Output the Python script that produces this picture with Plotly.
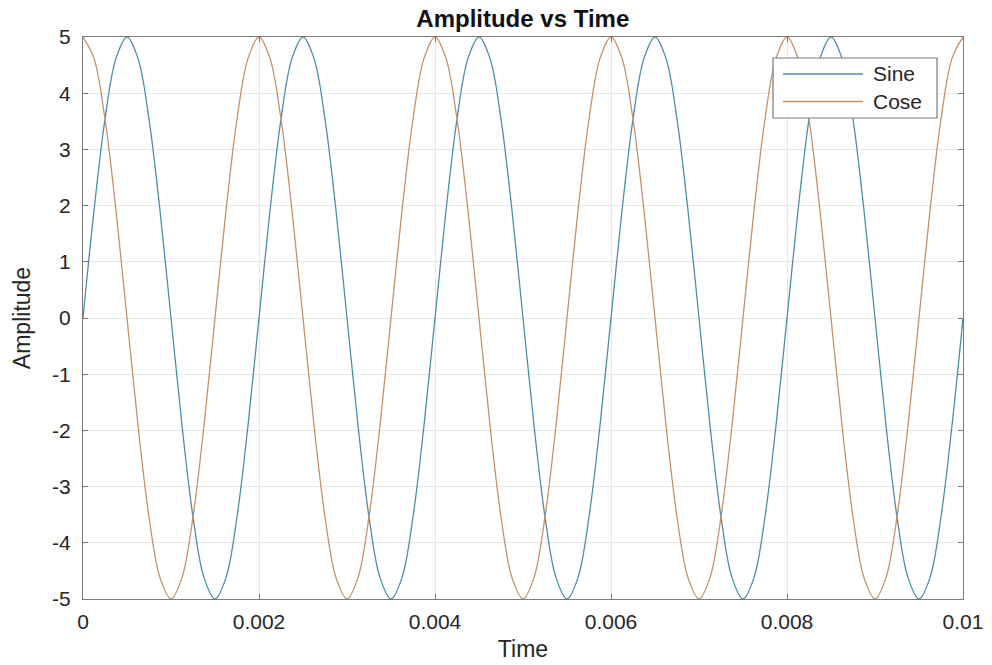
import plotly.graph_objects as go

# Time samples (s): sixteen per 0.002 s period, 0 .. 0.01
time = [i * 0.000125 for i in range(81)]
# Amplitudes at those times
sine = [0, 1.91, 3.54, 4.62, 5, 4.62, 3.54, 1.91, 0, -1.91, -3.54, -4.62, -5, -4.62, -3.54, -1.91,
        0, 1.91, 3.54, 4.62, 5, 4.62, 3.54, 1.91, 0, -1.91, -3.54, -4.62, -5, -4.62, -3.54, -1.91,
        0, 1.91, 3.54, 4.62, 5, 4.62, 3.54, 1.91, 0, -1.91, -3.54, -4.62, -5, -4.62, -3.54, -1.91,
        0, 1.91, 3.54, 4.62, 5, 4.62, 3.54, 1.91, 0, -1.91, -3.54, -4.62, -5, -4.62, -3.54, -1.91,
        0, 1.91, 3.54, 4.62, 5, 4.62, 3.54, 1.91, 0, -1.91, -3.54, -4.62, -5, -4.62, -3.54, -1.91,
        0]
cose = [5, 4.62, 3.54, 1.91, 0, -1.91, -3.54, -4.62, -5, -4.62, -3.54, -1.91, 0, 1.91, 3.54, 4.62,
        5, 4.62, 3.54, 1.91, 0, -1.91, -3.54, -4.62, -5, -4.62, -3.54, -1.91, 0, 1.91, 3.54, 4.62,
        5, 4.62, 3.54, 1.91, 0, -1.91, -3.54, -4.62, -5, -4.62, -3.54, -1.91, 0, 1.91, 3.54, 4.62,
        5, 4.62, 3.54, 1.91, 0, -1.91, -3.54, -4.62, -5, -4.62, -3.54, -1.91, 0, 1.91, 3.54, 4.62,
        5, 4.62, 3.54, 1.91, 0, -1.91, -3.54, -4.62, -5, -4.62, -3.54, -1.91, 0, 1.91, 3.54, 4.62,
        5]
series_names = ["Sine", "Cose"]
x_ticks = [0, 0.002, 0.004, 0.006, 0.008, 0.01]
x_tick_text = ["0", "0.002", "0.004", "0.006", "0.008", "0.01"]
y_ticks = [5, 4, 3, 2, 1, 0, -1, -2, -3, -4, -5]
y_tick_text = ["5", "4", "3", "2", "1", "0", "-1", "-2", "-3", "-4", "-5"]

COLORS = ["#4a8fa8", "#c99068"]
FONT = "Liberation Sans, Arial, sans-serif"
AXIS_GRAY = "#7a7a7a"

fig = go.Figure()
for name, vals, col in zip(series_names, [sine, cose], COLORS):
    fig.add_trace(go.Scatter(x=time, y=vals, mode="lines", name=name, showlegend=False,
                             line=dict(color=col, width=1.3, shape="spline", smoothing=1.0)))

axis_common = dict(
    showline=True, linecolor=AXIS_GRAY, linewidth=1.2, mirror="ticks",
    ticks="inside", ticklen=5, tickcolor=AXIS_GRAY,
    showgrid=True, gridcolor="#e6e6e6", gridwidth=1,
    zeroline=False, automargin=False,
    tickfont=dict(family=FONT, size=21, color="#262626"),
)

# Legend box drawn in paper coordinates (MATLAB-style legend)
shapes = [dict(type="rect", xref="paper", yref="paper", x0=0.7841, x1=0.9705, y0=0.8559, y1=0.9626,
               fillcolor="white", line=dict(color=AXIS_GRAY, width=1.2), layer="above")]
annotations = []
for i, (name, col) in enumerate(zip(series_names, COLORS)):
    ly = 0.9342 - i * 0.0490
    shapes.append(dict(type="line", xref="paper", yref="paper", x0=0.7955, x1=0.8864, y0=ly, y1=ly,
                       line=dict(color=col, width=1.6), layer="above"))
    annotations.append(dict(xref="paper", yref="paper", x=0.8955, y=ly, xanchor="left", yanchor="middle",
                            text=name, showarrow=False,
                            font=dict(family=FONT, size=21, color="#262626")))

fig.update_layout(
    width=992, height=665,
    margin=dict(l=83, r=29, t=37, b=66),
    paper_bgcolor="white", plot_bgcolor="white",
    title=dict(text="<b>Amplitude vs Time</b>", x=0.527, xanchor="center",
               y=0.972, yanchor="middle",
               font=dict(family=FONT, size=24, color="#111111")),
    xaxis=dict(range=[0, 0.01], tickvals=x_ticks, ticktext=x_tick_text,
               title=dict(text="Time", font=dict(family=FONT, size=23, color="#262626"), standoff=8),
               ticklabelstandoff=4, **axis_common),
    yaxis=dict(range=[-5, 5], tickvals=y_ticks, ticktext=y_tick_text,
               title=dict(text="Amplitude", font=dict(family=FONT, size=23, color="#262626"), standoff=14),
               ticklabelstandoff=7, **axis_common),
    shapes=shapes,
    annotations=annotations,
    showlegend=False,
)

fig.write_html("out.html", config={"displayModeBar": False},
               post_script="document.body.style.margin='0';")
